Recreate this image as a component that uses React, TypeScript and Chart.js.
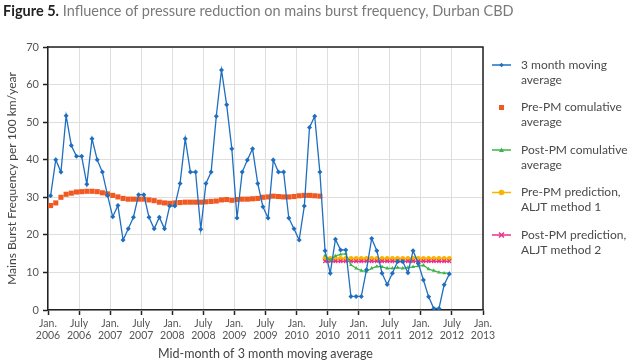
import React, { useEffect, useRef } from "react";
import { Chart, registerables } from "chart.js";

Chart.register(...registerables);

// Month index 0 = January 2006; each point sits at mid-month.
const tickLabels: string[][] = [
  ["Jan.", "2006"], ["July", "2006"], ["Jan.", "2007"], ["July", "2007"],
  ["Jan.", "2008"], ["July", "2008"], ["Jan.", "2009"], ["July", "2009"],
  ["Jan.", "2010"], ["July", "2010"], ["Jan.", "2011"], ["July", "2011"],
  ["Jan.", "2012"], ["July", "2012"], ["Jan.", "2013"],
];

const movingAvgStart = 0;
const movingAvg = [
  30.4, 40.0, 36.7, 51.7, 43.8, 40.9, 40.9, 33.5, 45.6, 40.0, 36.7, 30.5,
  24.8, 27.8, 18.6, 21.6, 24.7, 30.7, 30.7, 24.7, 21.6, 24.7, 21.6, 27.7,
  27.7, 33.7, 45.6, 36.7, 36.7, 21.5, 33.7, 36.7, 51.6, 63.9, 54.6, 42.9,
  24.5, 36.7, 39.9, 42.9, 33.7, 27.5, 24.5, 39.9, 36.7, 36.7, 24.5, 21.6,
  18.6, 27.7, 48.6, 51.6, 36.7, 15.8, 9.8, 18.8, 16.0, 16.0, 3.6, 3.6,
  3.6, 10.7, 19.0, 15.8, 9.8, 6.8, 9.8, 12.9, 12.9, 9.9, 15.8, 12.4,
  8.0, 3.5, 0.4, 0.4, 6.7, 9.6,
];

const preCumStart = 0;
const preCumAvg = [
  27.8, 28.5, 30.0, 30.8, 31.1, 31.4, 31.5, 31.6, 31.6, 31.5, 31.2, 30.9,
  30.5, 30.1, 29.7, 29.5, 29.5, 29.5, 29.5, 29.3, 29.1, 28.7, 28.5, 28.4,
  28.5, 28.6, 28.7, 28.7, 28.7, 28.7, 28.8, 28.9, 29.0, 29.3, 29.4, 29.2,
  29.4, 29.5, 29.5, 29.6, 29.7, 30.0, 30.1, 30.3, 30.2, 30.1, 30.1, 30.2,
  30.4, 30.5, 30.5, 30.4, 30.3,
];

const postStart = 53;
const postCumAvg = [
  14.5, 13.3, 14.4, 14.8, 15.0, 12.0, 11.1, 10.5, 10.2, 11.1, 11.6, 11.5,
  11.1, 11.1, 11.3, 11.1, 11.3, 11.5, 11.7, 11.9, 10.9, 10.5, 10.0, 9.8, 9.8,
];
const preMethod1 = [
  13.7, 13.7, 13.7, 13.7, 13.7, 13.7, 13.7, 13.7, 13.7, 13.7, 13.7, 13.7,
  13.7, 13.7, 13.7, 13.7, 13.7, 13.7, 13.7, 13.7, 13.7, 13.7, 13.7, 13.7, 13.7,
];
const postMethod2 = [
  13.0, 13.0, 13.0, 13.0, 13.0, 13.0, 13.0, 13.0, 13.0, 13.0, 13.0, 13.0,
  13.0, 13.0, 13.0, 13.0, 13.0, 13.0, 13.0, 13.0, 13.0, 13.0, 13.0, 13.0, 13.0,
];

const legendLabels: string[][] = [
  ["3 month moving", "average"],
  ["Pre-PM comulative", "average"],
  ["Post-PM comulative", "average"],
  ["Pre-PM prediction,", "ALJT method 1"],
  ["Post-PM prediction,", "ALJT method 2"],
];

const BLUE = "#1f6fc0";
const ORANGE = "#f05a22";
const GREEN = "#3db54a";
const YELLOW = "#f7b500";
const MAGENTA = "#e8328c";
const FONT = "Lato, 'Open Sans', sans-serif";

const toPoints = (vals: number[], start: number) =>
  vals.map((v, i) => ({ x: start + i + 0.5, y: v }));

function drawMarker(ctx: CanvasRenderingContext2D, style: string, x: number, y: number, color: string) {
  ctx.save();
  ctx.fillStyle = color;
  ctx.strokeStyle = color;
  ctx.lineWidth = 1.5;
  ctx.beginPath();
  if (style === "rectRot") {
    ctx.moveTo(x, y - 2.2); ctx.lineTo(x + 2.2, y); ctx.lineTo(x, y + 2.2); ctx.lineTo(x - 2.2, y);
    ctx.closePath(); ctx.fill();
  } else if (style === "rect") {
    ctx.rect(x - 2.5, y - 2.5, 5, 5); ctx.fill();
  } else if (style === "triangle") {
    ctx.moveTo(x, y - 2.5); ctx.lineTo(x + 2.5, y + 2); ctx.lineTo(x - 2.5, y + 2);
    ctx.closePath(); ctx.fill();
  } else if (style === "circle") {
    ctx.arc(x, y, 2.8, 0, Math.PI * 2); ctx.fill();
  } else if (style === "crossRot") {
    ctx.moveTo(x - 2.5, y - 2.5); ctx.lineTo(x + 2.5, y + 2.5);
    ctx.moveTo(x + 2.5, y - 2.5); ctx.lineTo(x - 2.5, y + 2.5);
    ctx.stroke();
  }
  ctx.restore();
}

const decorPlugin = {
  id: "decor",
  afterDraw(chart: any) {
    const ctx: CanvasRenderingContext2D = chart.ctx;
    const a = chart.chartArea;
    ctx.save();
    // frame top/right
    ctx.strokeStyle = "#222";
    ctx.lineWidth = 1.5;
    ctx.beginPath();
    ctx.moveTo(a.left, a.top);
    ctx.lineTo(a.right, a.top);
    ctx.lineTo(a.right, a.bottom);
    ctx.stroke();

    // axis titles
    ctx.fillStyle = "#444";
    ctx.font = `12.5px ${FONT}`;
    ctx.textAlign = "center";
    ctx.textBaseline = "middle";
    ctx.fillText("Mid-month of 3 month moving average", (a.left + a.right) / 2, 354);
    ctx.save();
    ctx.translate(12, (a.top + a.bottom) / 2);
    ctx.rotate(-Math.PI / 2);
    ctx.font = `12px ${FONT}`;
    ctx.fillText("Mains Burst Frequency per 100 km/year", 0, 0);
    ctx.restore();

    // legend
    const styles = [
      { c: BLUE, m: "rectRot", line: true },
      { c: ORANGE, m: "rect", line: false },
      { c: GREEN, m: "triangle", line: true },
      { c: YELLOW, m: "circle", line: true },
      { c: MAGENTA, m: "crossRot", line: true },
    ];
    ctx.textAlign = "left";
    ctx.font = `12px ${FONT}`;
    legendLabels.forEach((lbl, k) => {
      const yc = 65 + k * 42.5;
      const s = styles[k];
      if (s.line) {
        ctx.strokeStyle = s.c;
        ctx.lineWidth = 1.5;
        ctx.beginPath();
        ctx.moveTo(492, yc);
        ctx.lineTo(511, yc);
        ctx.stroke();
      }
      drawMarker(ctx, s.m, 501.5, yc, s.c);
      ctx.fillStyle = "#4a4a4a";
      ctx.fillText(lbl[0], 521, yc);
      ctx.fillText(lbl[1], 521, yc + 15);
    });
    ctx.restore();
  },
};

export default function App() {
  const ref = useRef<HTMLCanvasElement | null>(null);
  useEffect(() => {
    if (!ref.current) return;
    const chart = new Chart(ref.current, {
      type: "line",
      data: {
        datasets: [
          {
            label: "3 month moving average",
            data: toPoints(movingAvg, movingAvgStart),
            borderColor: BLUE,
            backgroundColor: BLUE,
            borderWidth: 1.3,
            pointStyle: "rectRot",
            pointRadius: 2.5,
            pointBorderWidth: 0,
            tension: 0,
          },
          {
            label: "Pre-PM comulative average",
            data: toPoints(preCumAvg, preCumStart),
            borderColor: ORANGE,
            backgroundColor: ORANGE,
            showLine: false,
            pointStyle: "rect",
            pointRadius: 3.6,
            pointBorderWidth: 0,
          },
          {
            label: "Post-PM comulative average",
            data: toPoints(postCumAvg, postStart),
            borderColor: GREEN,
            backgroundColor: GREEN,
            borderWidth: 1.3,
            pointStyle: "triangle",
            pointRadius: 2.2,
            pointBorderWidth: 0,
          },
          {
            label: "Post-PM prediction, ALJT method 2",
            data: toPoints(postMethod2, postStart),
            borderColor: MAGENTA,
            backgroundColor: MAGENTA,
            borderWidth: 1.5,
            pointStyle: "crossRot",
            pointRadius: 2.5,
            pointBorderWidth: 1.3,
          },
          {
            label: "Pre-PM prediction, ALJT method 1",
            data: toPoints(preMethod1, postStart),
            borderColor: YELLOW,
            backgroundColor: YELLOW,
            borderWidth: 1.5,
            pointStyle: "circle",
            pointRadius: 2.5,
            pointBorderWidth: 0,
          },
        ],
      },
      options: {
        animation: false,
        responsive: false,
        maintainAspectRatio: false,
        layout: { padding: { top: 47, right: 157, left: 0, bottom: 0 } },
        plugins: {
          legend: { display: false },
          title: { display: false },
          tooltip: { enabled: false },
        },
        scales: {
          x: {
            type: "linear",
            min: 0,
            max: 84,
            afterBuildTicks: (s: any) => {
              s.ticks = tickLabels.map((_, i) => ({ value: i * 6 }));
            },
            afterFit: (s: any) => {
              s.height = 53;
            },
            ticks: {
              autoSkip: false,
              maxRotation: 0,
              padding: 2,
              color: "#555",
              font: { family: FONT, size: 10.5, lineHeight: 1.2 },
              callback: (v: any) => tickLabels[Math.round(Number(v) / 6)],
            },
            grid: { color: "#dedede", lineWidth: 1, tickLength: 5, tickColor: "#222", tickWidth: 1.5 },
            border: { color: "#222", width: 1.5 },
          },
          y: {
            min: 0,
            max: 70,
            afterFit: (s: any) => {
              s.width = 48;
            },
            ticks: {
              stepSize: 10,
              padding: 4,
              color: "#555",
              font: { family: FONT, size: 11 },
            },
            grid: { color: "#dedede", lineWidth: 1, tickLength: 5, tickColor: "#222", tickWidth: 1.5 },
            border: { color: "#222", width: 1.5 },
          },
        },
      },
      plugins: [decorPlugin],
    });
    return () => chart.destroy();
  }, []);

  return (
    <div style={{ position: "absolute", left: 0, top: 0, width: 640, height: 363, background: "#fff", overflow: "hidden" }}>
      <canvas ref={ref} width={640} height={363} style={{ position: "absolute", left: 0, top: 0, width: 640, height: 363 }} />
      <div
        style={{
          position: "absolute",
          left: 3,
          top: 1,
          fontFamily: FONT,
          fontSize: 14.5,
          lineHeight: "20px",
          color: "#7a7a7a",
          whiteSpace: "nowrap",
        }}
      >
        <span style={{ fontWeight: 700, color: "#222" }}>Figure 5.</span> Influence of pressure reduction on mains burst frequency, Durban CBD
      </div>
    </div>
  );
}
